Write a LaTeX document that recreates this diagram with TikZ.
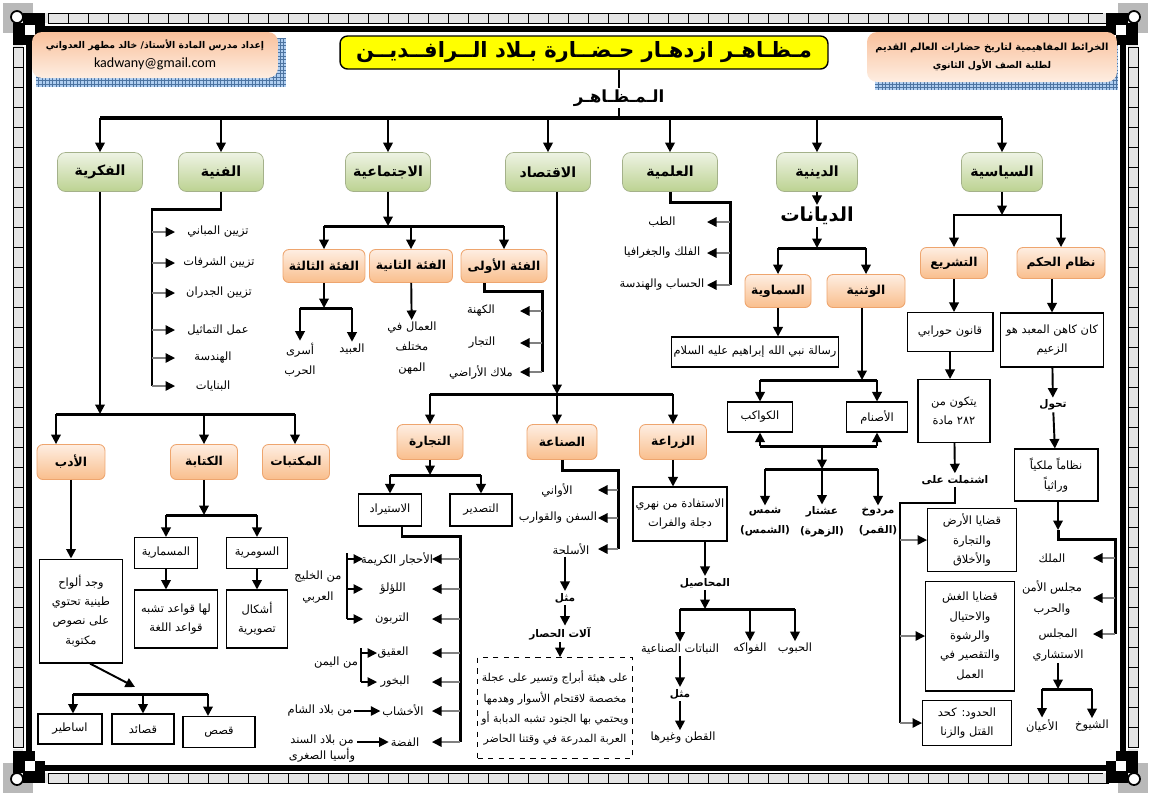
\documentclass[tikz,border=0pt]{standalone}
\usepackage{fontspec}
\usepackage{tikz}
\usetikzlibrary{arrows.meta,calc}
\TeXXeTstate=1
\newfontfamily\arabicfont[Script=Arabic]{DejaVu Sans}
\newfontfamily\latinfont{Carlito}
\newcommand{\rl}[1]{{\arabicfont\beginR #1\endR}}
\definecolor{gTop}{RGB}{238,243,228}
\definecolor{gBot}{RGB}{188,210,145}
\definecolor{oTop}{RGB}{254,238,226}
\definecolor{oBot}{RGB}{249,190,140}
\definecolor{oLine}{RGB}{238,165,110}
\definecolor{hTop}{RGB}{249,192,155}
\definecolor{hBot}{RGB}{254,238,226}
\definecolor{shBlue}{RGB}{110,165,230}
\definecolor{ttlY}{RGB}{255,255,0}
\definecolor{cellG}{RGB}{228,228,228}

\begin{document}
\begin{tikzpicture}[x=0.02cm, y=-0.02cm, >={Triangle[length=1.9mm,width=1.9mm]},
  gbox/.style={rectangle, rounded corners=1.6mm, top color=gTop, bottom color=gBot, draw=gBot!60!gray, line width=0.4pt, minimum width=17mm, minimum height=7.8mm, font=\fontsize{8}{10}\selectfont\bfseries},
  obox/.style={rectangle, rounded corners=1.2mm, top color=oTop, bottom color=oBot, draw=oLine, line width=0.5pt, minimum width=13.4mm, minimum height=6.6mm, font=\fontsize{7}{8.5}\selectfont\bfseries},
  wbox/.style={rectangle, draw, line width=0.6pt, fill=white, align=center, inner sep=1pt, font=\fontsize{6.5}{11}\selectfont},
  dbox/.style={wbox, dashed, line width=0.5pt, font=\fontsize{6.2}{11.5}\selectfont},
  txt/.style={align=center, inner sep=1pt, font=\fontsize{6.5}{11.5}\selectfont},
  txtb/.style={txt, font=\fontsize{6}{11.5}\selectfont\bfseries},
  hbox/.style={rectangle, rounded corners=2mm, top color=hTop, bottom color=hBot, align=center, font=\fontsize{5.3}{10.5}\selectfont\bfseries},
  arr/.style={draw, line width=1.1pt, ->},
  arr2/.style={draw, line width=0.7pt, ->},
  garr/.style={draw=gray, line width=0.8pt, -{Triangle[length=1.9mm,width=1.9mm,color=black]}},
  ln/.style={draw, line width=1.7pt},
  ln2/.style={draw, line width=1.3pt},
  bus/.style={draw, line width=2.3pt},
  cell/.style={draw, line width=0.5pt, fill=cellG}]
  \useasboundingbox (0,0) rectangle (1151,796);

  % decorative frame
  \foreach \i in {0,...,52} {
    \draw[cell] ({48+20*\i},13) rectangle ++(20,10);
    \draw[cell] ({48+20*\i},773) rectangle ++(20,10);
  }
  \foreach \i in {0,...,34} {
    \draw[cell] (13,{47+20*\i}) rectangle ++(10,20);
    \draw[cell] (1128,{47+20*\i}) rectangle ++(10,20);
  }
  \draw[line width=1.2mm] (28.5,28.5) rectangle (1122.5,767.5);
  \foreach \sx/\sy/\cx/\cy in {1/1/0/0, -1/1/1151/0, 1/-1/0/796, -1/-1/1151/796} {
    \begin{scope}[shift={(\cx,\cy)}, xscale=\sx, yscale=\sy]
      \fill[gray!55] (3,3) rectangle (33,33);
      \fill[cellG] (17,13) rectangle (48,23);
      \fill[cellG] (13,17) rectangle (23,47);
      \fill (13,23) rectangle (25,45);
      \fill (23,13) rectangle (45,25);
      \fill[white] (25,25) rectangle (35,35);
      \fill (35,25) rectangle (45,35);
      \fill (25,35) rectangle (35,45);
      \fill[white] (35,35) rectangle (45,45);
      \draw[line width=1pt, fill=white] (17,17) circle[radius=1.2mm];
    \end{scope}
  }

  % headers
  \fill[shBlue!55] (36,38) rectangle (286,87);
  \draw[shBlue!70!black, line width=0.15pt, step=0.7mm] (36,38) grid (286,87);
  \node[hbox, minimum width=49.2mm, minimum height=9.2mm] (hl) at (155,55)
    {\rl{إعداد مدرس المادة الأستاذ/ خالد مطهر العدواني}\\{\latinfont\mdseries\fontsize{8}{10}\selectfont kadwany@gmail.com}};
  \fill[shBlue!55] (875,45) rectangle (1118,90);
  \draw[shBlue!70!black, line width=0.15pt, step=0.7mm] (875,45) grid (1118,90);
  \node[hbox, minimum width=50mm, minimum height=10mm] (hr) at (992,57)
    {{\fontsize{5.6}{10.5}\selectfont\rl{الخرائط المفاهيمية لتاريخ حضارات العالم القديم}}\\\rl{لطلبة الصف الأول الثانوي}};
  \node[rectangle, rounded corners=1.5mm, fill=ttlY, draw, line width=0.8pt, minimum width=97.6mm, minimum height=6.6mm, font=\fontsize{12}{14}\selectfont\bfseries] (ttl) at (584,52.5)
    {\rl{مـظـاهـر ازدهـار حـضــارة بـلاد الــرافــديــن}};

  % main categories
  \node[gbox] (fikr) at (100,172) {\rl{الفكرية}};
  \node[gbox] (fann) at (221,172) {\rl{الفنية}};
  \node[gbox] (ijt) at (388,172) {\rl{الاجتماعية}};
  \node[gbox] (iqt) at (548,172) {\rl{الاقتصاد}};
  \node[gbox, minimum width=19mm] (ilm) at (670,172) {\rl{العلمية}};
  \node[gbox, minimum width=16.2mm] (din) at (817,172) {\rl{الدينية}};
  \node[gbox, minimum width=16.2mm] (siy) at (1002,172) {\rl{السياسية}};

  \coordinate (bus) at (619,118);
  \draw[line width=1.4pt] (ttl.south -| bus) -- (bus);
  \node[fill=white, inner sep=1pt, font=\fontsize{9.5}{12}\selectfont\bfseries] (mz) at (619,98) {\rl{الـمـظـاهـر}};
  \draw[bus] (fikr |- bus) -- (siy |- bus);
  \foreach \n in {fikr,fann,ijt,iqt,ilm,din,siy} \draw[arr] (\n |- bus) -- (\n);

  % السياسية
  \node[obox, minimum height=6.2mm] (tash) at (954,263) {\rl{التشريع}};
  \node[obox, minimum width=17.6mm, minimum height=6.2mm] (hukm) at (1061,263) {\rl{نظام الحكم}};
  \coordinate (sb) at (1002,215);
  \draw[arr] (siy) -- (sb);
  \draw[arr] (sb) -| (tash);
  \draw[arr] (sb) -| (hukm);
  \node[wbox, minimum width=17.2mm, minimum height=7.8mm] (hamm) at (950,332) {\rl{قانون حورابي}};
  \node[wbox, minimum width=14.4mm, minimum height=12.6mm] (mawad) at (954,411) {\rl{يتكون من}\\\rl{٢٨٢ مادة}};
  \node[txtb] (isht) at (955,480) {\rl{اشتملت على}};
  \node[wbox, minimum width=17.8mm, minimum height=12.6mm] (q1) at (972,540) {\rl{قضايا الأرض}\\\rl{والتجارة}\\\rl{والأخلاق}};
  \node[wbox, minimum width=17.8mm, minimum height=22mm] (q2) at (970,636) {\rl{قضايا الغش}\\\rl{والاحتيال}\\\rl{والرشوة}\\\rl{والتقصير في}\\\rl{العمل}};
  \node[wbox, minimum width=17.8mm, minimum height=9mm] (hud) at (967,723) {\rl{الحدود: كحد}\\\rl{القتل والزنا}};
  \draw[arr] (tash) -- (tash |- hamm.north);
  \draw[arr] (hamm.south) -- (hamm.south |- mawad.north);
  \draw[arr] (mawad) -- (isht);
  \coordinate (sv) at (900,503);
  \draw[ln2] (isht.south) -- (isht.south |- sv) -- (sv) -- (sv |- hud);
  \foreach \b in {q1,q2,hud} \draw[garr] (sv |- \b) -- (\b);

  \node[wbox, minimum width=20.6mm, minimum height=10.8mm] (kahin) at (1052,340) {\rl{كان كاهن المعبد هو}\\\rl{الزعيم}};
  \node[txtb] (tahw) at (1053,405) {\rl{تحول}};
  \node[wbox, minimum width=16.8mm, minimum height=10.4mm] (malaki) at (1056,475) {\rl{نظاماً ملكياً}\\\rl{وراثياً}};
  \node[txt] (mlk) at (1052,558) {\rl{الملك}};
  \node[txt] (mjl) at (1052,598) {\rl{مجلس الأمن}\\\rl{والحرب}};
  \node[txt] (ist) at (1058,645) {\rl{المجلس}\\\rl{الاستشاري}};
  \node[txt] (ayn) at (1042,726) {\rl{الأعيان}};
  \node[txt] (shy) at (1092,726) {\rl{الشيوخ}};
  \draw[arr] (kahin |- hukm.south) -- (kahin);
  \draw[arr] (kahin) -- (tahw);
  \draw[arr] (tahw) -- (malaki);
  \coordinate (ha) at (1058,530);
  \coordinate (hc) at (1058,539);
  \coordinate (hrr) at (1115,539);
  \draw[arr] (malaki.south -| ha) -- (ha);
  \draw[ln] (ha) -- (hc) -- (hrr) -- ($(hrr |- ist)+(0,-11)$);
  \foreach \t in {mlk,mjl} \draw[garr] (hrr |- \t) -- ++(-22,0);
  \draw[garr] ($(hrr |- ist)+(0,-11)$) -- ++(-22,0);
  \coordinate (hs) at (1062,689);
  \draw[arr] (ist) -- (ist |- hs);
  \draw[ln] (ayn |- hs) -- (shy |- hs);
  \draw[arr] (ayn |- hs) -- (ayn);
  \draw[arr] (shy |- hs) -- (shy);

  % الدينية
  \node[font=\fontsize{11}{13}\selectfont\bfseries, inner sep=1pt] (diy) at (817,216) {\rl{الديانات}};
  \node[obox, minimum width=13.2mm] (sama) at (778,291) {\rl{السماوية}};
  \node[obox, minimum width=15.6mm] (wath) at (866,291) {\rl{الوثنية}};
  \node[wbox, minimum width=32.8mm, minimum height=6mm] (ris) at (755,352) {\rl{رسالة نبي الله إبراهيم عليه السلام}};
  \node[wbox, minimum width=13mm, minimum height=6mm] (kaw) at (760,417) {\rl{الكواكب}};
  \node[wbox, minimum width=12.2mm, minimum height=6mm] (asn) at (877,417) {\rl{الأصنام}};
  \node[txtb] (shm) at (765,522) {\rl{شمس}\\\rl{(الشمس)}};
  \node[txtb] (ish) at (822,522) {\rl{عشتار}\\\rl{(الزهرة)}};
  \node[txtb] (mrd) at (878,522) {\rl{مردوخ}\\\rl{(القمر)}};
  \draw[arr] (din) -- (diy);
  \coordinate (db) at (817,248);
  \draw[arr] (diy) -- (db);
  \draw[ln] (sama |- db) -- (wath |- db);
  \draw[arr] (sama |- db) -- (sama);
  \draw[arr] (wath |- db) -- (wath);
  \draw[arr] (sama) -- (sama |- ris.north);
  \coordinate (dw) at (862,380);
  \draw[arr] (wath.south -| dw) -- (dw);
  \draw[ln] (kaw |- dw) -- (asn |- dw);
  \draw[arr] (kaw |- dw) -- (kaw);
  \draw[arr] (asn |- dw) -- (asn);
  \coordinate (dg) at (822,446);
  \draw[ln] (kaw |- dg) -- (asn |- dg);
  \draw[arr] (kaw |- dg) -- (kaw);
  \draw[arr] (asn |- dg) -- (asn);
  \coordinate (dh) at (822,469);
  \draw[arr] (dg) -- (dh);
  \draw[ln] (shm |- dh) -- (mrd |- dh);
  \foreach \n in {shm,ish,mrd} \draw[arr] (\n |- dh) -- (\n);

  % العلمية
  \node[txt] (tbb) at (662,222) {\rl{الطب}};
  \node[txt] (flk) at (662,253) {\rl{الفلك والجغرافيا}};
  \node[txt] (hsb) at (662,285) {\rl{الحساب والهندسة}};
  \coordinate (er) at (730,202);
  \draw[ln] (ilm.south) |- (er) -- (er |- hsb);
  \foreach \t in {tbb,flk,hsb} \draw[garr] (er |- \t) -- ++(-23,0);

  % الاقتصاد
  \node[obox, minimum width=13.2mm, minimum height=7mm] (tij) at (430,442) {\rl{التجارة}};
  \node[obox, minimum width=14mm, minimum height=7mm] (sin) at (562,442) {\rl{الصناعة}};
  \node[obox, minimum height=7mm] (zir) at (673,442) {\rl{الزراعة}};
  \coordinate (qb) at (557,394);
  \draw[arr] (iqt.south -| qb) -- (qb);
  \draw[ln] (tij |- qb) -- (zir |- qb);
  \draw[arr] (tij |- qb) -- (tij);
  \draw[arr] (qb) -- (qb |- sin.north);
  \draw[arr] (zir |- qb) -- (zir);

  \node[wbox, minimum width=12.6mm, minimum height=6.4mm] (istir) at (390,510) {\rl{الاستيراد}};
  \node[wbox, minimum width=12.4mm, minimum height=6.4mm] (tasd) at (481,510) {\rl{التصدير}};
  \coordinate (tb) at (430,475);
  \draw[arr] (tij) -- (tb);
  \draw[ln] (istir |- tb) -- (tasd |- tb);
  \draw[arr] (istir |- tb) -- (istir);
  \draw[arr] (tasd |- tb) -- (tasd);
  \node[txt] (ahj) at (397,559) {\rl{الأحجار الكريمة}};
  \node[txt] (lul) at (393,589) {\rl{اللؤلؤ}};
  \node[txt] (tur) at (392,619) {\rl{التربون}};
  \node[txt] (aqq) at (393,653) {\rl{العقيق}};
  \node[txt] (bkh) at (395,682) {\rl{البخور}};
  \node[txt] (akh) at (403,711) {\rl{الأخشاب}};
  \node[txt] (fid) at (405,742) {\rl{الفضة}};
  \node[txt] (khl) at (318,587) {\rl{من الخليج}\\\rl{العربي}};
  \node[txt] (yam) at (336,663) {\rl{من اليمن}};
  \node[txt] (shmm) at (320,711) {\rl{من بلاد الشام}};
  \node[txt, font=\fontsize{6.5}{7.8}\selectfont] (snd) at (322,749) {\rl{من بلاد السند}\\\rl{وأسيا الصغرى}};
  \coordinate (tr) at (460,536);
  \draw[ln] ([xshift=2.4mm]istir.south) |- (tr) -- (tr |- fid);
  \foreach \t in {ahj,lul,tur,aqq,bkh,akh,fid} \draw[garr] (tr |- \t) -- ++(-28,0);
  \coordinate (kh) at (347,553);
  \draw[ln2] (kh) -- (kh |- tur);
  \foreach \t in {ahj,lul,tur} \draw[arr2] (kh |- \t) -- ++(16,0);
  \coordinate (ym) at (361,648);
  \draw[ln2] (ym) -- (ym |- bkh);
  \foreach \t in {aqq,bkh} \draw[arr2] (ym |- \t) -- ++(16,0);
  \draw[arr2] (shmm) -- (akh);
  \draw[arr2] (snd.east |- fid) -- (fid);

  \node[txt] (awn) at (557,490) {\rl{الأواني}};
  \node[txt] (sfn) at (558,518) {\rl{السفن والقوارب}};
  \node[txt] (asl) at (571,549) {\rl{الأسلحة}};
  \node[txtb] (mth1) at (565,598) {\rl{مثل}};
  \node[txtb] (alat) at (560,634) {\rl{آلات الحصار}};
  \node[dbox, minimum width=31mm, minimum height=20.2mm] (his) at (555,708)
    {\rl{على هيئة أبراج وتسير على عجلة}\\\rl{مخصصة لاقتحام الأسوار وهدمها}\\\rl{ويحتمي بها الجنود تشبه الدبابة أو}\\\rl{العربة المدرعة في وقتنا الحاضر}};
  \coordinate (nr) at (618,470);
  \draw[ln] (sin.south) |- (nr) -- (nr |- asl);
  \foreach \t in {awn,sfn,asl} \draw[garr] (nr |- \t) -- ++(-20,0);
  \draw[arr] (mth1 |- asl.south) -- (mth1);
  \draw[arr] (mth1) -- (mth1 |- alat.north);
  \draw[arr] (alat) -- (alat |- his.north);

  \node[wbox, minimum width=18.8mm, minimum height=10.8mm] (istf) at (680,514) {\rl{الاستفادة من نهري}\\\rl{دجلة والفرات}};
  \node[txtb] (mhs) at (705,583) {\rl{المحاصيل}};
  \node[txt] (nab) at (680,649) {\rl{النباتات الصناعية}};
  \node[txt] (fwk) at (750,649) {\rl{الفواكه}};
  \node[txt] (hub) at (795,649) {\rl{الحبوب}};
  \node[txtb] (mth2) at (680,694) {\rl{مثل}};
  \node[txt] (qtn) at (683,738) {\rl{القطن وغيرها}};
  \draw[arr] (zir) -- (zir |- istf.north);
  \draw[arr] (mhs |- istf.south) -- (mhs);
  \coordinate (zb) at (705,609);
  \draw[arr] (mhs) -- (zb);
  \draw[ln] (nab |- zb) -- (hub |- zb);
  \foreach \n in {nab,fwk,hub} \draw[arr] (\n |- zb) -- (\n);
  \draw[arr] (nab) -- (mth2);
  \draw[arr] (mth2) -- (mth2 |- qtn.north);

  % الاجتماعية
  \node[obox, minimum width=16.4mm] (f3) at (324,266) {\rl{الفئة الثالثة}};
  \node[obox, minimum width=16.6mm] (f2) at (411,266) {\rl{الفئة الثانية}};
  \node[obox, minimum width=17.2mm] (f1) at (504,266) {\rl{الفئة الأولى}};
  \coordinate (jb) at (390,226);
  \draw[arr] (ijt) -- (ijt |- jb);
  \draw[ln] (f3 |- jb) -- (f1 |- jb);
  \foreach \n in {f3,f2,f1} \draw[arr] (\n |- jb) -- (\n);
  \node[txt] (asra) at (300,360) {\rl{أسرى}\\\rl{الحرب}};
  \node[txt] (abid) at (352,349) {\rl{العبيد}};
  \node[txt] (uml) at (412,348) {\rl{العمال في}\\\rl{مختلف}\\\rl{المهن}};
  \node[txt] (kah) at (481,311) {\rl{الكهنة}};
  \node[txt] (tuj) at (482,343) {\rl{التجار}};
  \node[txt] (mul) at (481,372) {\rl{ملاك الأراضي}};
  \coordinate (j3) at (327,308);
  \draw[arr] (f3) -- (f3 |- j3);
  \draw[ln] (asra |- j3) -- (abid |- j3);
  \draw[arr] (asra |- j3) -- (asra);
  \draw[arr] (abid |- j3) -- (abid);
  \draw[arr] (f2) -- (uml);
  \coordinate (j1) at (542,291);
  \draw[ln] ([xshift=-4mm]f1.south) |- (j1) -- (j1 |- mul);
  \foreach \t in {kah,tuj,mul} \draw[garr] (j1 |- \t) -- ++(-22,0);

  % الفنية
  \node[txt] (fa1) at (218,232) {\rl{تزيين المباني}};
  \node[txt] (fa2) at (219,263) {\rl{تزيين الشرفات}};
  \node[txt] (fa3) at (219,293) {\rl{تزيين الجدران}};
  \node[txt] (fa4) at (218,330) {\rl{عمل التماثيل}};
  \node[txt] (fa5) at (213,358) {\rl{الهندسة}};
  \node[txt] (fa6) at (213,386) {\rl{البنايات}};
  \coordinate (fn) at (152,209);
  \draw[ln] (fann.south) |- (fn) -- (fn |- fa6);
  \foreach \i in {1,...,6} \draw[garr] (fn |- fa\i) -- ++(23,0);

  % الفكرية
  \node[obox, minimum width=13.6mm, minimum height=7mm] (adab) at (71,462) {\rl{الأدب}};
  \node[obox, minimum height=7mm] (kit) at (204,462) {\rl{الكتابة}};
  \node[obox, minimum height=7mm] (mak) at (296,462) {\rl{المكتبات}};
  \coordinate (kL) at (56,414);
  \coordinate (kR) at (295,414);
  \draw[arr] (fikr) -- (fikr |- kL);
  \draw[ln] (kL) -- (kR);
  \draw[arr] (kL) -- (kL |- adab.north);
  \draw[arr] (kit |- kL) -- (kit);
  \draw[arr] (kR) -- (kR |- mak.north);

  \node[wbox, minimum width=16.6mm, minimum height=20.8mm] (alwah) at (81,611) {\rl{وجد ألواح}\\\rl{طينية تحتوي}\\\rl{على نصوص}\\\rl{مكتوبة}};
  \node[wbox, minimum width=12.8mm, minimum height=6mm] (asat) at (70,729) {\rl{اساطير}};
  \node[wbox, minimum width=12.4mm, minimum height=6mm] (qasd) at (143,729) {\rl{قصائد}};
  \node[wbox, minimum width=14.4mm, minimum height=6.2mm] (qis) at (219,732) {\rl{قصص}};
  \draw[arr] (adab.south) -- (adab.south |- alwah.north);
  \coordinate (bm) at (135,687);
  \draw[arr] ([xshift=1.8mm]alwah.south) -- (bm);
  \coordinate (bL) at (73,694);
  \coordinate (bR) at (208,694);
  \draw[ln] (bL) -- (bR);
  \draw[arr] (bL) -- (bL |- asat.north);
  \draw[arr] (qasd |- bL) -- (qasd);
  \draw[arr] (bR) -- (bR |- qis.north);

  \node[wbox, minimum width=12.6mm, minimum height=6.2mm] (misr) at (166,553) {\rl{المسمارية}};
  \node[wbox, minimum width=12.2mm, minimum height=6.2mm] (sumr) at (257,553) {\rl{السومرية}};
  \node[wbox, minimum width=16.6mm, minimum height=11.6mm] (qawd) at (176,619) {\rl{لها قواعد تشبه}\\\rl{قواعد اللغة}};
  \node[wbox, minimum width=12.2mm, minimum height=11.6mm] (ashk) at (257,619) {\rl{أشكال}\\\rl{تصويرية}};
  \coordinate (wk) at (207,515);
  \draw[arr] (kit) -- (kit |- wk);
  \draw[ln] (misr |- wk) -- (sumr |- wk);
  \draw[arr] (misr |- wk) -- (misr);
  \draw[arr] (sumr |- wk) -- (sumr);
  \draw[arr] (misr.south) -- (misr.south |- qawd.north);
  \draw[arr] (sumr) -- (ashk);
\end{tikzpicture}
\end{document}
